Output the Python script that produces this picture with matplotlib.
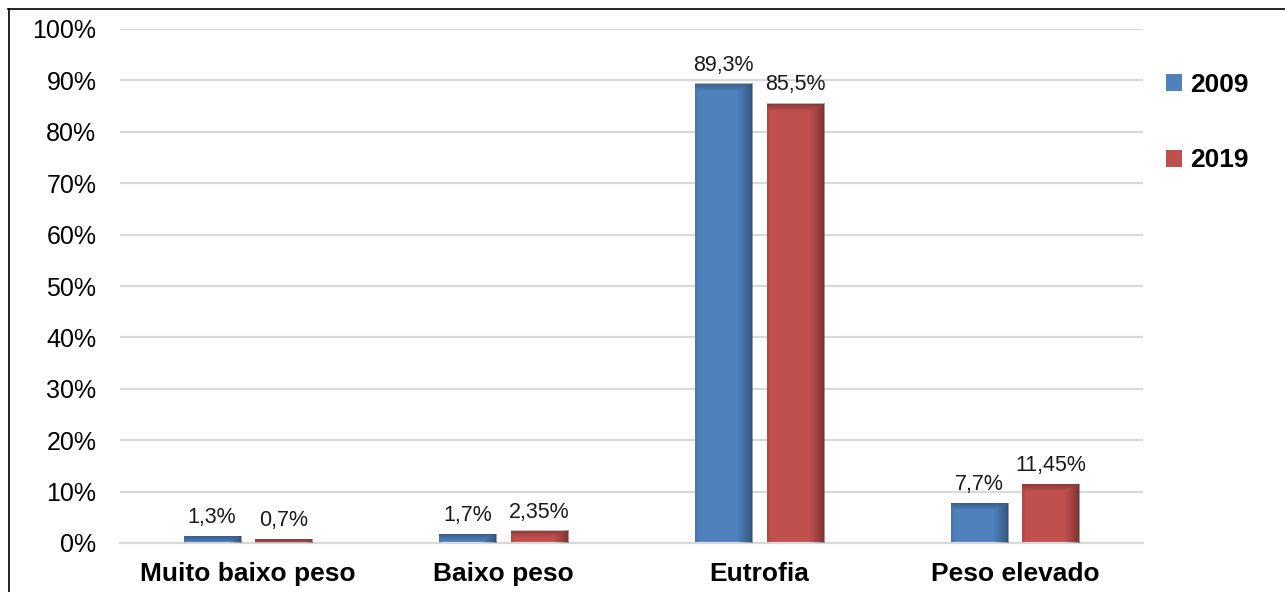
import numpy as np
import matplotlib.pyplot as plt
from matplotlib.lines import Line2D
from matplotlib.patches import Patch

plt.rcParams['font.family'] = ['Liberation Sans', 'DejaVu Sans']

categorias = ["Muito baixo peso", "Baixo peso", "Eutrofia", "Peso elevado"]
anos = ["2009", "2019"]
valores_2009 = [1.3, 1.7, 89.3, 7.7]
valores_2019 = [0.7, 2.35, 85.5, 11.45]
rotulos_2009 = ["1,3%", "1,7%", "89,3%", "7,7%"]
rotulos_2019 = ["0,7%", "2,35%", "85,5%", "11,45%"]
cores = ["#4F81BD", "#C0504D"]

fig = plt.figure(figsize=(12.85, 5.92), dpi=100)
ax = fig.add_axes([120 / 1285, 1 - 543 / 592, (1143 - 120) / 1285, (543 - 29) / 592])

x = np.arange(len(categorias))
largura = 0.223
desloc = 0.14
px_por_pct = (543 - 29) / 100.0


def sombrear(barras):
    # darken the right edge and the top of each bar to imitate the bevel look
    for b in barras:
        x0, y0 = b.get_x(), b.get_y()
        w, h = b.get_width(), b.get_height()
        if h <= 0:
            continue
        nx, ny = 60, 200
        u = np.linspace(0, 1, nx)
        v = np.linspace(0, 1, ny)[:, None]
        a_dir = np.clip((u - 0.72) / 0.28, 0, 1) ** 1.3 * 0.38
        a_esq = np.clip((0.06 - u) / 0.06, 0, 1) * 0.08
        topo_px = (1 - v) * h * px_por_pct
        a_top = np.clip((7 - topo_px) / 7, 0, 1) * 0.28
        alpha = np.maximum(np.maximum(a_dir, a_esq)[None, :], a_top)
        img = np.zeros((ny, nx, 4))
        img[..., 3] = alpha
        ax.imshow(img, extent=[x0, x0 + w, y0, y0 + h], origin='lower',
                  aspect='auto', zorder=3, interpolation='bilinear')


b1 = ax.bar(x - desloc, valores_2009, largura, color=cores[0], zorder=2)
b2 = ax.bar(x + desloc, valores_2019, largura, color=cores[1], zorder=2)
sombrear(b1)
sombrear(b2)

for barras, rotulos in [(b1, rotulos_2009), (b2, rotulos_2019)]:
    for b, r in zip(barras, rotulos):
        ax.annotate(r, (b.get_x() + b.get_width() / 2, b.get_height()),
                    xytext=(0, 6), textcoords='offset points',
                    ha='center', va='bottom', fontsize=15.5, color='#1a1a1a')

ax.set_xlim(-0.5, len(categorias) - 0.5)
ax.set_ylim(0, 100)
ax.set_yticks(np.arange(0, 101, 10))
ax.set_yticklabels([f"{v}%" for v in range(0, 101, 10)], fontsize=18)
ax.set_xticks(x)
ax.set_xticklabels(categorias, fontsize=19, fontweight='bold')
ax.tick_params(axis='y', length=0, pad=17)
ax.tick_params(axis='x', length=0, pad=14)
ax.yaxis.grid(True, color='#d9d9d9', linewidth=1.6, zorder=0)
ax.set_axisbelow(True)
for s in ['top', 'right', 'left']:
    ax.spines[s].set_visible(False)
ax.spines['bottom'].set_color('#d9d9d9')
ax.spines['bottom'].set_linewidth(1.6)

handles = [Patch(facecolor=c, edgecolor='none') for c in cores]
fig.legend(handles, anos, loc='upper left', bbox_to_anchor=(1166 / 1285, 1 - 73 / 592),
           frameon=False, prop={'size': 19, 'weight': 'bold'},
           handlelength=0.6, handleheight=0.6, handletextpad=0.3,
           labelspacing=1.95, borderpad=0, borderaxespad=0)

# outer frame: top and left lines only
fig.add_artist(Line2D([8 / 1285, 1], [1 - 8.5 / 592, 1 - 8.5 / 592], color='black', linewidth=1.2))
fig.add_artist(Line2D([8.5 / 1285, 8.5 / 1285], [0, 1 - 8.5 / 592], color='black', linewidth=1.2))

fig.savefig("out.png", dpi=100)
